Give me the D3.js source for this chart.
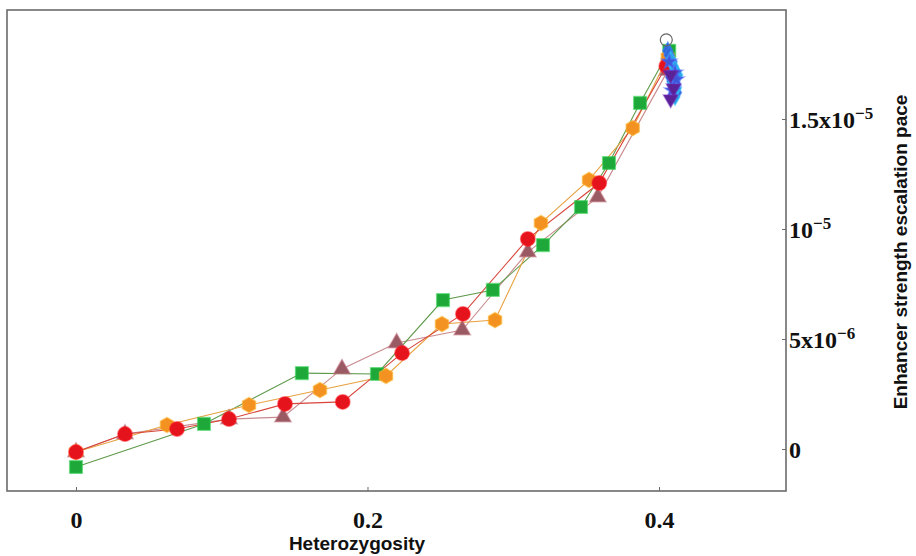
<!DOCTYPE html>
<html>
<head>
<meta charset="utf-8">
<script src="https://cdn.jsdelivr.net/npm/d3@7"></script>
<style>
  html, body { margin: 0; padding: 0; background: #fff; }
  svg { display: block; }
</style>
</head>
<body>
<svg id="chart" width="916" height="556"></svg>
<script>
// Heterozygosity vs enhancer strength escalation pace (values in units of 1e-6)
const UNIT = 1e-6;

// Red circles
const redX = [0, 0.0336, 0.0693, 0.105, 0.1434, 0.183, 0.2237, 0.2655, 0.310, 0.359, 0.405];
const redY = [-0.14, 0.68, 0.91, 1.36, 2.05, 2.14, 4.36, 6.14, 9.55, 12.09, 17.4];

// Orange hexagons
const orangeX = [0, 0.0624, 0.1187, 0.1674, 0.2127, 0.2511, 0.2875, 0.319, 0.352, 0.382, 0.406];
const orangeY = [-0.14, 1.09, 2.0, 2.68, 3.32, 5.68, 5.86, 10.27, 12.23, 14.59, 17.8];

// Green squares
const greenX = [0, 0.0878, 0.155, 0.2065, 0.2518, 0.286, 0.3204, 0.3465, 0.3657, 0.387, 0.407];
const greenY = [-0.82, 1.14, 3.45, 3.41, 6.77, 7.23, 9.27, 11.0, 13.0, 15.73, 18.1];

// Mauve triangles
const triX = [0, 0.0336, 0.105, 0.142, 0.1825, 0.220, 0.265, 0.310, 0.358, 0.406];
const triY = [-0.14, 0.68, 1.36, 1.45, 3.64, 4.82, 5.41, 8.95, 11.45, 17.2];

// Tight cluster at the highest heterozygosity
const blueX = [0.406, 0.409, 0.411, 0.408, 0.410, 0.412, 0.407, 0.409];
const blueY = [18.1, 17.6, 17.2, 16.9, 16.5, 16.2, 17.9, 16.7];
const cyanX = [0.410, 0.413, 0.409, 0.412, 0.411, 0.408];
const cyanY = [17.4, 17.0, 16.6, 16.4, 16.0, 17.7];
const royalX = [0.407, 0.411, 0.409, 0.412];
const royalY = [17.6, 17.1, 16.3, 16.8];
const purpleX = [0.408, 0.410, 0.408];
const purpleY = [17.0, 16.4, 15.9];
const openX = [0.405];
const openY = [18.6];

// Axis ticks
const xTicks = [0, 0.2, 0.4];
const xTickLabels = ["0", "0.2", "0.4"];
const yTicks = [0, 5, 10, 15];
const yTickLabels = [["0", ""], ["5x10", "−6"], ["10", "−5"], ["1.5x10", "−5"]];

const svg = d3.select("#chart");
const plotLeft = 7, plotRight = 786, plotTop = 10, plotBottom = 491;

const x = d3.scaleLinear().domain([-0.04734, 0.48714]).range([plotLeft, plotRight]);
const y = d3.scaleLinear().domain([-1.909, 19.955]).range([plotBottom, plotTop]);

// custom hexagon symbol
const hexagon = {
  draw(ctx, size) {
    const r = Math.sqrt(size / (1.5 * Math.sqrt(3)));
    for (let i = 0; i < 6; i++) {
      const a = Math.PI / 6 + i * Math.PI / 3;
      const px = r * Math.cos(a), py = r * Math.sin(a);
      if (i === 0) ctx.moveTo(px, py); else ctx.lineTo(px, py);
    }
    ctx.closePath();
  }
};
const downTriangle = {
  draw(ctx, size) {
    const s = Math.sqrt(size / (Math.sqrt(3) / 4));
    const h = s * Math.sqrt(3) / 2;
    ctx.moveTo(0, h * 2 / 3);
    ctx.lineTo(s / 2, -h / 3);
    ctx.lineTo(-s / 2, -h / 3);
    ctx.closePath();
  }
};

const series = [
  { xs: triX, ys: triY, line: "#c98a8e", fill: "#9a5a64", sym: d3.symbolTriangle, size: 115 },
  { xs: greenX, ys: greenY, line: "#5f9a4a", fill: "#1fa83a", sym: d3.symbolSquare, size: 160 },
  { xs: orangeX, ys: orangeY, line: "#e8a040", fill: "#f39221", sym: hexagon, size: 150 },
  { xs: redX, ys: redY, line: "#d8443a", fill: "#e5141c", sym: d3.symbolCircle, size: 165 },
  { xs: blueX, ys: blueY, line: "#3b6fd8", fill: "#2f66d8", sym: d3.symbolDiamond, size: 90 },
  { xs: cyanX, ys: cyanY, line: "#3aa8e0", fill: "#2aa4e4", sym: d3.symbolDiamond, size: 80 },
  { xs: royalX, ys: royalY, line: "#4a60d8", fill: "#3f56d6", sym: d3.symbolStar, size: 70 },
  { xs: purpleX, ys: purpleY, line: "#5a2a9a", fill: "#5a2296", sym: downTriangle, size: 90 }
];

const line = d3.line().x(d => x(d[0])).y(d => y(d[1]));

series.forEach(s => {
  const pts = s.xs.map((v, i) => [v, s.ys[i]]);
  svg.append("path")
    .attr("d", line(pts))
    .attr("fill", "none")
    .attr("stroke", s.line)
    .attr("stroke-width", 1.1);
});
series.forEach(s => {
  const pts = s.xs.map((v, i) => [v, s.ys[i]]);
  svg.append("g").selectAll("path")
    .data(pts)
    .join("path")
    .attr("transform", d => `translate(${x(d[0])},${y(d[1])})`)
    .attr("d", d3.symbol().type(s.sym).size(s.size))
    .attr("fill", s.fill)
    .attr("stroke", d3.color(s.fill).brighter(0.6))
    .attr("stroke-opacity", 0.5)
    .attr("stroke-width", 1.5);
});

// open marker at the top of the cluster
svg.append("g").selectAll("circle")
  .data(openX.map((v, i) => [v, openY[i]]))
  .join("circle")
  .attr("cx", d => x(d[0])).attr("cy", d => y(d[1]))
  .attr("r", 6)
  .attr("fill", "none")
  .attr("stroke", "#666").attr("stroke-width", 1.2);

// frame
svg.append("rect")
  .attr("x", plotLeft).attr("y", plotTop)
  .attr("width", plotRight - plotLeft).attr("height", plotBottom - plotTop)
  .attr("fill", "none").attr("stroke", "#6b6b6b").attr("stroke-width", 1.6);

const serif = "'Liberation Serif', 'Times New Roman', serif";
const sans = "'Liberation Sans', Arial, sans-serif";

// x axis ticks + labels
const xg = svg.append("g").attr("transform", `translate(0,${plotBottom})`);
xg.call(d3.axisBottom(x).tickValues(xTicks).tickSize(-4).tickFormat((d, i) => xTickLabels[i]));
xg.select(".domain").remove();
xg.selectAll(".tick line").attr("stroke", "#6b6b6b");
xg.selectAll(".tick text")
  .attr("y", 29).attr("dy", "0.35em")
  .attr("font-family", serif)
  .attr("font-weight", "bold").attr("font-size", 24).attr("fill", "#111");

// right y axis
const yg = svg.append("g").attr("transform", `translate(${plotRight},0)`);
yg.call(d3.axisRight(y).tickValues(yTicks).tickSize(-4).tickFormat(""));
yg.select(".domain").remove();
yg.selectAll(".tick line").attr("stroke", "#6b6b6b");
yg.selectAll(".tick").each(function(d, i) {
  const t = d3.select(this).append("text")
    .attr("x", 3).attr("dy", "0.35em")
    .attr("font-family", serif)
    .attr("font-weight", "bold").attr("font-size", 24).attr("fill", "#111")
    .attr("text-anchor", "start");
  t.append("tspan").text(yTickLabels[i][0]);
  if (yTickLabels[i][1]) {
    t.append("tspan").attr("dy", "-0.5em").attr("font-size", 17).text(yTickLabels[i][1]);
  }
});

// axis titles
svg.append("text")
  .attr("x", 357).attr("y", 550)
  .attr("text-anchor", "middle")
  .attr("font-family", sans)
  .attr("font-weight", "bold").attr("font-size", 19).attr("fill", "#111")
  .text("Heterozygosity");

svg.append("text")
  .attr("transform", "translate(907,252) rotate(-90)")
  .attr("text-anchor", "middle")
  .attr("font-family", sans)
  .attr("font-weight", "bold").attr("font-size", 19).attr("fill", "#111")
  .text("Enhancer strength escalation pace");
</script>
</body>
</html>
